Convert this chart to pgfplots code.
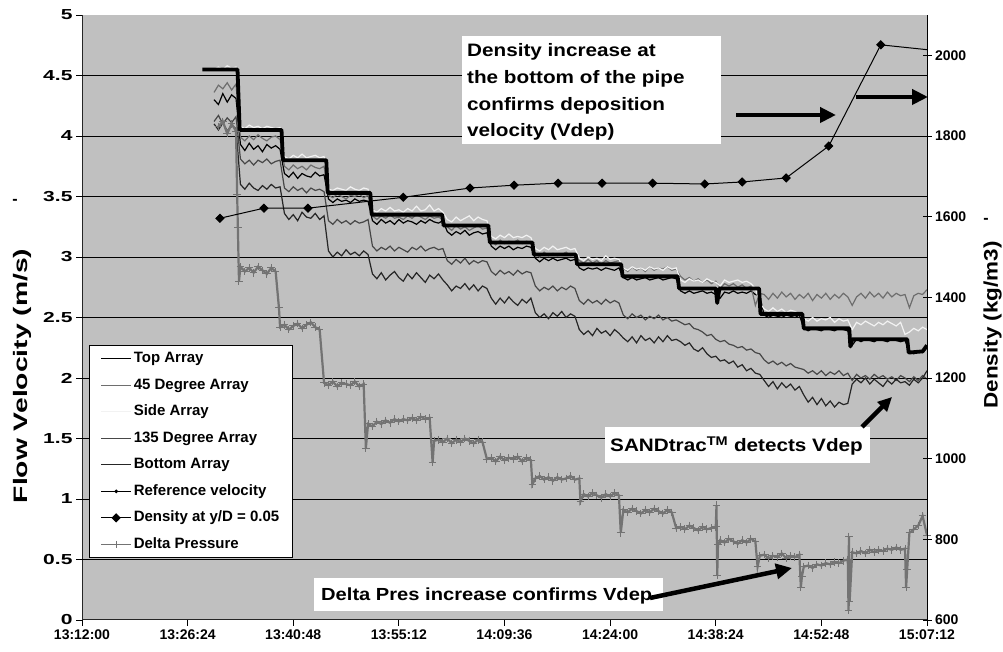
\documentclass[border=0pt]{standalone}
\usepackage{fontspec}
\setmainfont{Liberation Sans}
\newfontfamily\leftfont[FakeStretch=1.45]{Liberation Sans}
\newfontfamily\annfont[FakeStretch=1.15]{Liberation Sans}
\usepackage{pgfplots}
\usepackage{pgfplotstable}
\pgfplotsset{compat=1.18}
\usetikzlibrary{arrows.meta}
\definecolor{bg}{HTML}{C0C0C0}
\definecolor{gff}{HTML}{6E6E6E}
\definecolor{gside}{HTML}{F2F2F2}
\definecolor{gote}{HTML}{474747}
\definecolor{gbot}{HTML}{262626}
\definecolor{gdp}{HTML}{737373}

\pgfplotstableread{
t d45 top side d135 bot dp
18.0 4.36 4.30 4.55 4.12 4.10 nan
18.6 4.42 4.26 4.57 4.17 4.05 4.08
19.2 4.39 4.35 4.55 4.10 4.11 4.12
19.8 4.44 4.28 4.58 4.15 4.04 4.02
20.4 4.38 4.34 4.56 4.11 4.09 4.10
21.0 4.43 4.31 4.57 4.16 4.06 4.04
21.15 nan nan nan nan nan 3.52
21.25 nan nan nan nan nan 3.24
21.4 nan nan nan nan nan 2.80
21.6 3.99 3.93 4.08 3.81 3.60 2.92
22.2 3.96 3.88 4.06 3.77 3.56 2.88
22.8 4.00 3.94 4.09 3.80 3.61 2.91
23.4 3.97 3.89 4.07 3.76 3.57 2.87
24.0 4.01 3.92 4.08 3.80 3.55 2.92
24.6 3.98 3.87 4.06 3.78 3.59 2.89
25.2 3.96 3.93 4.08 3.81 3.56 2.86
25.8 3.99 3.90 4.07 3.77 3.60 2.91
26.4 4.00 3.92 4.06 3.79 3.57 2.88
26.85 nan nan nan nan nan 2.58
27.0 3.97 3.89 4.07 3.80 3.58 2.42
27.6 3.75 3.69 3.83 3.57 3.36 2.44
28.2 3.72 3.66 3.81 3.54 3.31 2.40
28.8 3.76 3.70 3.84 3.58 3.35 2.43
29.4 3.73 3.65 3.82 3.55 3.30 2.45
30.0 3.75 3.69 3.85 3.57 3.37 2.41
30.6 3.72 3.67 3.82 3.53 3.33 2.44
31.2 3.76 3.66 3.83 3.57 3.32 2.46
31.8 3.74 3.70 3.84 3.55 3.36 2.42
32.4 3.73 3.67 3.82 3.56 3.31 2.40
33.0 3.75 3.68 3.83 3.54 3.34 1.96
33.6 3.51 3.48 3.56 3.30 3.05 1.94
34.2 3.49 3.45 3.55 3.27 3.00 1.97
34.8 3.52 3.48 3.57 3.31 3.04 1.93
35.4 3.50 3.46 3.56 3.28 3.01 1.96
36.0 3.48 3.47 3.55 3.30 3.06 1.95
36.6 3.51 3.45 3.58 3.27 3.02 1.94
37.2 3.50 3.48 3.56 3.30 3.04 1.97
37.8 3.52 3.46 3.55 3.28 3.01 1.93
38.4 3.49 3.47 3.57 3.29 3.05 1.95
38.7 nan nan nan nan nan 1.42
39.0 3.51 3.46 3.56 3.31 3.02 1.62
39.6 3.34 3.30 3.39 3.09 2.86 1.60
40.2 3.31 3.27 3.37 3.05 2.82 1.64
40.8 3.34 3.31 3.40 3.08 2.87 1.62
41.4 3.32 3.28 3.38 3.06 2.81 1.65
42.0 3.35 3.30 3.41 3.09 2.85 1.63
42.6 3.32 3.27 3.38 3.05 2.88 1.66
43.2 3.33 3.31 3.39 3.08 2.83 1.64
43.8 3.31 3.28 3.37 3.06 2.80 1.66
44.4 3.34 3.30 3.40 3.04 2.86 1.65
45.0 3.32 3.29 3.38 3.08 2.82 1.67
45.6 3.35 3.27 3.42 3.06 2.87 1.65
46.2 3.33 3.30 3.38 3.09 2.83 1.68
46.8 3.31 3.28 3.39 3.05 2.79 1.66
47.4 3.34 3.31 3.43 3.07 2.85 1.67
47.8 nan nan nan nan nan 1.30
48.0 3.32 3.29 3.38 3.08 2.82 1.48
48.6 3.33 3.28 3.40 3.06 2.86 1.49
49.2 3.31 3.30 3.37 3.07 2.81 1.47
49.8 3.25 3.21 3.31 2.97 2.77 1.50
50.4 3.22 3.18 3.29 2.94 2.72 1.46
51.0 3.26 3.21 3.33 2.98 2.76 1.49
51.6 3.23 3.19 3.30 2.95 2.74 1.47
52.2 3.25 3.22 3.32 2.99 2.78 1.50
52.8 3.22 3.18 3.34 2.94 2.73 1.48
53.4 3.24 3.20 3.30 2.97 2.77 1.46
54.0 3.26 3.21 3.33 2.95 2.72 1.49
54.6 3.23 3.19 3.31 2.97 2.76 1.47
55.2 3.24 3.20 3.30 2.96 2.74 1.33
55.8 3.13 3.09 3.17 2.88 2.66 1.34
56.4 3.10 3.06 3.15 2.85 2.61 1.31
57.0 3.14 3.09 3.18 2.89 2.66 1.35
57.6 3.11 3.07 3.16 2.86 2.62 1.32
58.2 3.13 3.09 3.19 2.88 2.67 1.34
58.8 3.12 3.06 3.16 2.85 2.63 1.33
59.4 3.14 3.08 3.17 2.89 2.60 1.35
60.0 3.11 3.07 3.16 2.86 2.65 1.31
60.6 3.13 3.09 3.18 2.88 2.62 1.34
61.2 3.12 3.08 3.16 2.87 2.66 1.32
61.4 nan nan nan nan nan 1.12
61.8 3.03 2.99 3.07 2.76 2.54 1.17
62.4 3.00 2.96 3.05 2.72 2.50 1.19
63.0 3.04 2.99 3.08 2.75 2.53 1.16
63.6 3.01 2.97 3.06 2.73 2.49 1.18
64.2 3.03 2.99 3.09 2.76 2.54 1.15
64.8 3.01 2.97 3.06 2.72 2.51 1.18
65.4 3.02 2.98 3.07 2.75 2.55 1.16
66.0 3.04 2.99 3.08 2.73 2.50 1.17
66.6 3.01 2.97 3.06 2.76 2.53 1.19
67.2 3.02 2.98 3.07 2.74 2.51 1.16
67.8 2.97 2.91 2.99 2.64 2.40 1.17
67.95 nan nan nan nan nan 0.98
68.4 2.95 2.89 2.97 2.61 2.36 1.04
69.0 2.98 2.91 3.00 2.65 2.39 1.02
69.6 2.95 2.90 2.98 2.62 2.35 1.05
70.2 2.97 2.91 2.99 2.64 2.41 1.03
70.8 2.94 2.89 2.97 2.61 2.37 1.01
71.4 2.97 2.91 3.01 2.65 2.39 1.04
72.0 2.95 2.90 2.98 2.62 2.35 1.02
72.6 2.96 2.89 2.99 2.64 2.40 1.05
73.2 2.97 2.91 2.98 2.62 2.37 1.03
73.45 nan nan nan nan nan 0.72
73.8 2.91 2.83 2.91 2.52 2.33 0.91
74.4 2.88 2.81 2.89 2.49 2.30 0.89
75.0 2.92 2.83 2.92 2.53 2.34 0.92
75.6 2.89 2.81 2.90 2.50 2.29 0.90
76.2 2.91 2.82 2.91 2.52 2.35 0.88
76.8 2.88 2.83 2.89 2.48 2.31 0.91
77.4 2.92 2.81 2.92 2.51 2.33 0.89
78.0 2.89 2.82 2.90 2.49 2.29 0.92
78.6 2.91 2.83 2.91 2.52 2.34 0.90
79.2 2.90 2.81 2.89 2.48 2.30 0.88
79.8 2.92 2.82 2.92 2.50 2.35 0.91
80.4 2.89 2.83 2.90 2.47 2.31 0.89
81.0 2.90 2.82 2.91 2.48 2.32 0.76
81.6 2.84 2.72 2.81 2.46 2.30 0.77
82.2 2.81 2.70 2.79 2.44 2.27 0.75
82.8 2.83 2.72 2.82 2.45 2.29 0.78
83.4 2.80 2.70 2.80 2.41 2.24 0.76
84.0 2.82 2.71 2.81 2.40 2.22 0.74
84.6 2.79 2.72 2.79 2.38 2.25 0.77
85.2 2.81 2.70 2.82 2.35 2.20 0.75
85.8 2.78 2.71 2.80 2.36 2.17 0.76
86.4 2.80 2.69 2.79 2.32 2.18 0.77
86.5 nan nan nan nan nan 0.95
86.6 nan nan nan nan nan 0.37
86.7 nan nan nan nan nan 0.62
87.0 2.74 2.66 2.76 2.30 2.14 0.66
87.6 2.78 2.71 2.81 2.31 2.15 0.64
88.2 2.76 2.70 2.79 2.28 2.12 0.67
88.8 2.78 2.72 2.80 2.27 2.14 0.65
89.4 2.75 2.70 2.81 2.25 2.09 0.63
90.0 2.77 2.71 2.79 2.26 2.11 0.66
90.6 2.74 2.70 2.80 2.23 2.06 0.64
91.2 2.76 2.72 2.78 2.24 2.08 0.67
91.8 2.60 2.69 2.74 2.21 2.04 0.65
92.1 nan nan nan nan nan 0.44
92.4 2.70 2.68 2.62 2.20 2.03 0.53
93.0 2.69 2.52 2.57 2.15 1.98 0.54
93.6 2.65 2.50 2.55 2.12 1.93 0.51
94.2 2.70 2.52 2.58 2.14 1.97 0.53
94.8 2.66 2.51 2.55 2.11 1.91 0.52
95.4 2.71 2.50 2.57 2.13 1.96 0.55
96.0 2.67 2.52 2.54 2.10 1.92 0.51
96.6 2.70 2.51 2.56 2.12 1.95 0.53
97.2 2.65 2.50 2.55 2.09 1.90 0.52
97.8 2.69 2.52 2.53 2.08 1.93 0.54
98.0 nan nan nan nan nan 0.27
98.15 nan nan nan nan nan 0.36
98.4 2.66 2.41 2.49 2.07 1.86 0.44
99.0 2.70 2.39 2.47 2.04 1.80 0.45
99.6 2.64 2.41 2.50 2.06 1.84 0.43
100.2 2.69 2.40 2.47 2.03 1.78 0.46
100.8 2.66 2.39 2.49 2.06 1.83 0.45
101.4 2.70 2.41 2.48 2.02 1.77 0.47
102.0 2.65 2.40 2.50 2.05 1.81 0.46
102.6 2.69 2.39 2.46 2.03 1.76 0.48
103.2 2.66 2.41 2.49 2.06 1.80 0.47
103.8 2.70 2.40 2.47 2.02 1.78 0.49
104.4 2.67 2.39 2.48 2.04 1.79 0.50
104.5 nan nan nan nan nan 0.08
104.55 nan nan nan nan nan 0.69
104.65 nan nan nan nan nan 0.15
105.0 2.60 2.27 2.40 1.98 1.95 0.56
105.6 2.67 2.32 2.46 2.03 1.99 0.55
106.2 2.70 2.30 2.44 2.00 1.96 0.57
106.8 2.66 2.32 2.47 2.02 2.00 0.55
107.4 2.71 2.31 2.45 1.99 1.95 0.58
108.0 2.67 2.30 2.43 2.03 1.99 0.56
108.6 2.70 2.32 2.46 2.00 1.96 0.58
109.2 2.66 2.31 2.44 2.02 1.93 0.57
109.8 2.71 2.30 2.47 1.99 1.98 0.59
110.4 2.67 2.32 2.45 2.01 1.95 0.58
111.0 2.70 2.31 2.43 1.98 1.99 0.60
111.6 2.68 2.30 2.46 2.02 1.96 0.58
112.2 2.69 2.31 2.36 2.00 1.97 0.59
112.35 nan nan nan nan nan 0.27
112.5 nan nan nan nan nan 0.42
112.8 2.58 2.22 2.38 1.97 1.94 0.72
113.4 2.68 2.20 2.41 2.01 1.99 0.75
114.0 2.70 2.22 2.39 1.98 1.96 0.78
114.6 2.69 2.21 2.42 2.02 2.00 0.86
115.2 2.73 2.25 2.40 1.99 2.06 0.70
}\data

\begin{document}
\begin{tikzpicture}
\path[use as bounding box] (0pt,0pt) rectangle (1003pt,652pt);
\begin{axis}[
  at={(82pt,32pt)}, anchor=south west,
  width=845pt, height=605pt, scale only axis,
  xmin=0, xmax=115.2, ymin=0, ymax=5,
  axis background/.style={fill=bg},
  axis x line*=bottom, axis y line*=left,
  axis line style={-, draw=black!85, line width=1pt},
  xtick={0,14.4,28.8,43.2,57.6,72,86.4,100.8,115.2},
  xticklabels={13:12:00,13:26:24,13:40:48,13:55:12,14:09:36,14:24:00,14:38:24,14:52:48,15:07:12},
  ytick={0,0.5,1,1.5,2,2.5,3,3.5,4,4.5,5},
  extra y ticks={0.5,1,1.5,2,2.5,3,3.5,4,4.5},
  extra y tick labels={},
  extra y tick style={grid=major, major tick length=0pt},
  grid style={black, line width=0.8pt},
  tick align=outside, major tick length=6pt,
  tick style={black, line width=0.8pt},
  /pgf/number format/assume math mode=true,
  yticklabel style={font=\fontsize{14.5}{16}\leftfont\bfseries},
  xticklabel style={font=\fontsize{14}{16}\selectfont\bfseries},
  unbounded coords=discard,
  legend cell align=left,
  legend image code/.code={\draw[mark repeat=2,mark phase=2,#1] plot coordinates {(0pt,0pt) (15pt,0pt) (30pt,0pt)};},
  legend style={at={(0.00828,0.4545)}, anchor=north west,
    draw=black, line width=1.2pt, fill=white,
    inner xsep=11pt, inner ysep=4pt, row sep=8pt,
    font=\fontsize{15}{18}\selectfont\bfseries,
    nodes={inner sep=2pt, text height=11pt, text depth=3.5pt}},
]
\addplot[black, line width=1.2pt, no markers] table[x=t,y=top]{\data};
\addlegendentry{Top Array}
\addplot[gff, line width=1.2pt, no markers] table[x=t,y=d45]{\data};
\addlegendentry{45 Degree Array}
\addplot[gside, line width=1.2pt, no markers] table[x=t,y=side]{\data};
\addlegendentry{Side Array}
\addplot[gote, line width=1.2pt, no markers] table[x=t,y=d135]{\data};
\addlegendentry{135 Degree Array}
\addplot[gbot, line width=1.2pt, no markers] table[x=t,y=bot]{\data};
\addlegendentry{Bottom Array}
\addplot[black, line width=3.8pt, line join=round, no markers, forget plot] coordinates {
(16.4,4.55) (21.2,4.55) (21.5,4.05) (27.2,4.05) (27.4,3.80) (33.3,3.80) (33.5,3.53) (39.3,3.53) (39.5,3.35) (49.1,3.35) (49.3,3.26) (55.4,3.26) (55.6,3.12) (61.4,3.12) (61.6,3.02) (67.3,3.02) (67.5,2.94) (73.5,2.94) (73.7,2.84) (81.2,2.84) (81.4,2.74) (86.4,2.74) (86.6,2.62) (86.9,2.74) (92.3,2.74) (92.5,2.53) (98.2,2.53) (98.4,2.41) (104.6,2.41) (104.75,2.26) (105.0,2.32) (112.5,2.32) (112.7,2.21) (114.6,2.22) (115.2,2.27)};
\addlegendimage{black, line width=1pt, mark=*, mark size=1.3pt}
\addlegendentry{Reference velocity}
\addlegendimage{black, line width=1pt, mark=square*, mark size=2.8pt, mark options={rotate=45, solid}}
\addlegendentry{Density at y/D = 0.05}
\addplot[gdp, line width=2.2pt, mark=+, mark size=3.8pt, mark options={line width=1pt}, forget plot] table[x=t,y=dp]{\data};
\addlegendimage{gdp, line width=1pt, mark=+, mark size=3.5pt, mark options={line width=0.8pt}}
\addlegendentry{Delta Pressure}
\end{axis}
\begin{axis}[
  at={(82pt,32pt)}, anchor=south west,
  width=845pt, height=605pt, scale only axis,
  xmin=0, xmax=115.2, ymin=600, ymax=2100,
  axis x line=none, axis y line*=right,
  axis line style={-, black, line width=1pt},
  ytick={600,800,1000,1200,1400,1600,1800,2000},
  tick align=center, major tick length=9pt,
  tick style={black, line width=0.8pt},
  /pgf/number format/assume math mode=true,
  /pgf/number format/1000 sep={},
  yticklabel style={font=\fontsize{14}{16}\selectfont\bfseries},
]
\addplot[black, line width=1pt, mark=square*, mark size=2.8pt, mark options={rotate=45, solid}] coordinates {
(18.8,1596) (24.8,1621) (30.8,1621) (43.8,1648) (52.9,1671) (58.9,1678) (64.9,1683) (70.9,1683) (77.8,1683) (84.9,1681) (90.0,1686) (96.0,1696) (101.8,1775) (108.9,2026)};
\addplot[black, line width=1pt, no markers] coordinates {(108.9,2026) (115.2,2014)};
\end{axis}
% axis titles
\node[rotate=90, font=\fontsize{19.5}{22}\leftfont\bfseries] at (22.5pt,276pt) {Flow Velocity (m/s)};
\node[rotate=90, font=\fontsize{19.5}{22}\annfont\bfseries] at (992.5pt,327pt) {Density (kg/m3)};
\node[font=\fontsize{16}{18}\selectfont\bfseries, inner sep=0pt] at (15pt,450pt) {-};
\node[font=\fontsize{16}{18}\selectfont\bfseries, inner sep=0pt] at (986pt,431pt) {-};
% annotation boxes
\fill[white] (462pt,508pt) rectangle (721pt,616pt);
\begin{scope}[every node/.style={anchor=base west, inner sep=0pt, font=\fontsize{18}{22}\annfont\bfseries}]
\node at (467pt,595pt) {Density increase at};
\node at (467pt,568pt) {the bottom of the pipe};
\node at (467pt,541pt) {confirms deposition};
\node at (467pt,515pt) {velocity (Vdep)};
\end{scope}
\fill[white] (605pt,189pt) rectangle (870pt,225pt);
\node[anchor=base west, inner sep=0pt, font=\fontsize{18}{22}\annfont\bfseries] at (610pt,200pt) {SANDtrac\textsuperscript{TM} detects Vdep};
\fill[white] (314pt,41pt) rectangle (663pt,74pt);
\node[anchor=base west, inner sep=0pt, font=\fontsize{17.5}{22}\annfont\bfseries] at (321pt,51pt) {Delta Pres increase confirms Vdep};
% arrows
\draw[line width=4.5pt, -{Triangle[length=16pt, width=15pt]}] (736pt,537pt) -- (836pt,537pt);
\draw[line width=4.5pt, -{Triangle[length=16pt, width=15pt]}] (856pt,555pt) -- (928pt,555pt);
\draw[line width=4.5pt, -{Triangle[length=14pt, width=13pt]}] (862pt,225pt) -- (892pt,255pt);
\draw[line width=4.5pt, -{Triangle[length=16pt, width=15pt]}] (650pt,54pt) -- (792pt,84pt);
\end{tikzpicture}
\end{document}
